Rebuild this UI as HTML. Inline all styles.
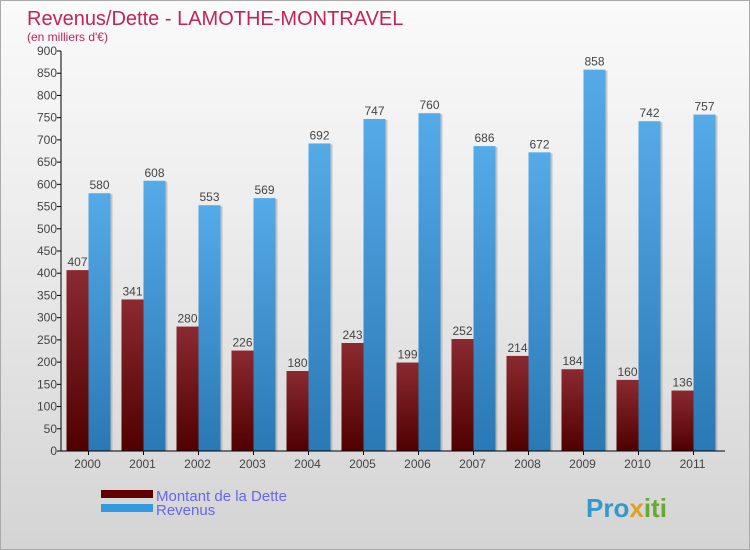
<!DOCTYPE html>
<html><head><meta charset="utf-8"><style>
body{margin:0}
#c{width:750px;height:550px;position:relative;background:linear-gradient(#fafafa,#f0f0f0 30%,#d4d4d4);font-family:"Liberation Sans",sans-serif;overflow:hidden;border:1px solid #aaa;box-sizing:border-box}
</style></head><body>
<div id="c">
<svg id="s" width="750" height="550" style="position:absolute;left:0;top:0">
<defs>
<linearGradient id="gd" x1="0" y1="0" x2="0" y2="1"><stop offset="0" stop-color="#8a2a30"/><stop offset="1" stop-color="#500000"/></linearGradient>
<linearGradient id="gr" x1="0" y1="0" x2="0" y2="1"><stop offset="0" stop-color="#55aae8"/><stop offset="1" stop-color="#2a78b4"/></linearGradient>
</defs>
<text x="26" y="24" font-size="20" fill="#c0245a">Revenus/Dette - LAMOTHE-MONTRAVEL</text>
<text x="26" y="40" font-size="12" fill="#c0245a">(en milliers d'€)</text>
<g id="g"></g>
<rect x="100" y="489" width="52" height="8" fill="#600000"/>
<rect x="100" y="503" width="52" height="8" fill="#3399e0"/>
<text x="155" y="500" font-size="15" fill="#6666ee">Montant de la Dette</text>
<text x="155" y="514" font-size="15" fill="#6666ee">Revenus</text>
<text x="585" y="516" font-size="26" font-weight="bold" fill="#3399cc">Pro<tspan fill="#e0a020">x</tspan><tspan fill="#66aa33">iti</tspan></text>
</svg>
</div>
<script>
const years=["2000","2001","2002","2003","2004","2005","2006","2007","2008","2009","2010","2011"];
const debt=[407,341,280,226,180,243,199,252,214,184,160,136];
const revenue=[580,608,553,569,692,747,760,686,672,858,742,757];
const ticks=[0,50,100,150,200,250,300,350,400,450,500,550,600,650,700,750,800,850,900];
const L=60,R=720,T=50,B=450,MAX=900;
const y=v=>B-(v/MAX)*(B-T);
const gw=(R-L)/years.length;
const g=document.getElementById('g');
const NS="http://www.w3.org/2000/svg";
function mk(t,a){const e=document.createElementNS(NS,t);for(const k in a)e.setAttribute(k,a[k]);g.appendChild(e);return e;}
ticks.forEach(t=>{
 const l=mk('line',{x1:L-4,x2:L,y1:y(t),y2:y(t),stroke:'#000'});
 
 
 const tx=mk('text',{x:L-4,y:y(t)+4,'font-size':12,'text-anchor':'end',fill:'#444'});
 tx.textContent=t;
 
 
});
years.forEach((yr,i)=>{
 const c=L+gw*(i+0.5),bw=22;
 [[debt[i],c-bw,'url(#gd)','bar-debt-'+yr],[revenue[i],c,'url(#gr)','bar-revenue-'+yr]].forEach(([v,x,f,n])=>{
  const sh=mk('rect',{x:x+2,y:y(v)+1,width:bw,height:B-y(v)-1,fill:'#999',opacity:0.5});
  
  
  const r=mk('rect',{x:x,y:y(v),width:bw,height:B-y(v),fill:f});
  
  
  const t=mk('text',{x:x+bw/2,y:y(v)-4,'font-size':12,'text-anchor':'middle',fill:'#444'});
  t.textContent=v;
  
  
 });
 const tk=mk('line',{x1:c,x2:c,y1:B,y2:B+4,stroke:'#000'});
 
 
 const xl=mk('text',{x:c-1,y:B+17,'font-size':12,'text-anchor':'middle',fill:'#444'});
 xl.textContent=yr;
 
 
});
const ya=mk('line',{x1:L,x2:L,y1:T,y2:B,stroke:'#000'});


const xa=mk('line',{x1:L,x2:R+4,y1:B,y2:B,stroke:'#000'});


</script>
</body></html>
